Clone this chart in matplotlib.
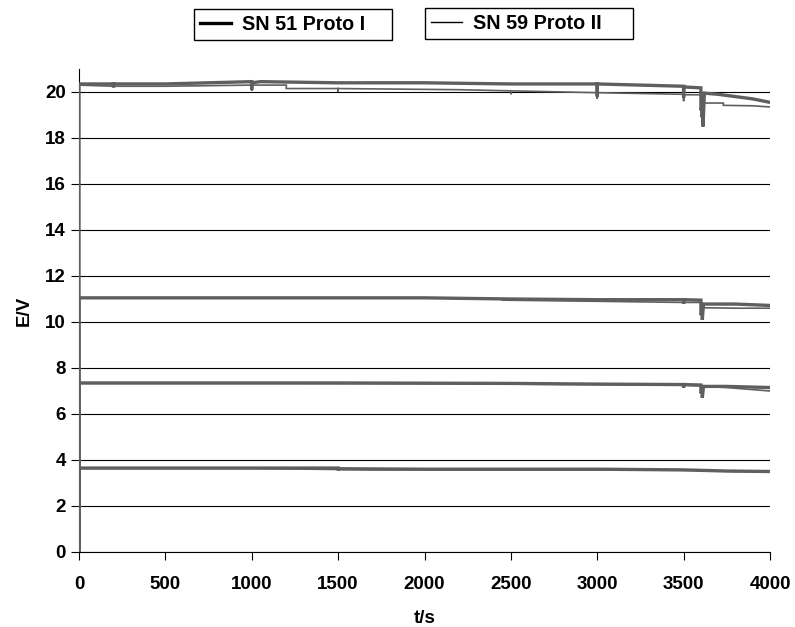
import matplotlib
matplotlib.use("Agg")
import matplotlib.pyplot as plt
from matplotlib.lines import Line2D

plt.rcParams['font.family'] = ['Liberation Sans', 'DejaVu Sans']
plt.rcParams['font.weight'] = 'bold'

series_names = ["SN 51 Proto I", "SN 59 Proto II"]

# ---- SN 51 Proto I (thick) ----
p1_top_t = [0, 0, 200, 200, 200, 500, 1000, 1000, 1000, 1050, 1500, 2000, 2500, 3000, 3000, 3000,
            3500, 3500, 3500, 3600, 3600, 3605, 3605, 3612, 3612, 3620, 3700, 3800, 3900, 4000]
p1_top_v = [0, 20.35, 20.35, 20.2, 20.35, 20.35, 20.45, 20.1, 20.4, 20.45, 20.4, 20.4, 20.35, 20.35, 19.8, 20.35,
            20.25, 19.75, 20.22, 20.18, 19.2, 19.3, 18.9, 19.0, 18.5, 19.95, 19.9, 19.8, 19.7, 19.55]
p1_mid_t = [0, 0, 200, 1000, 1500, 2000, 2500, 3000, 3500, 3500, 3500, 3600, 3600, 3608, 3608, 3615, 3800, 4000]
p1_mid_v = [0, 11.05, 11.05, 11.05, 11.05, 11.05, 11.0, 10.97, 10.97, 10.8, 10.97, 10.95, 10.3, 10.4, 10.1, 10.78, 10.78, 10.72]
p1_low_t = [0, 0, 200, 1500, 2500, 3000, 3500, 3500, 3500, 3600, 3600, 3608, 3608, 3615, 3750, 4000]
p1_low_v = [0, 7.35, 7.35, 7.35, 7.33, 7.3, 7.28, 7.15, 7.28, 7.26, 6.9, 7.0, 6.7, 7.2, 7.2, 7.15]
p1_bot_t = [0, 0, 500, 1500, 1500, 1500, 2000, 3000, 3500, 3600, 3750, 4000]
p1_bot_v = [0, 3.65, 3.65, 3.65, 3.55, 3.62, 3.6, 3.6, 3.57, 3.55, 3.52, 3.5]

# ---- SN 59 Proto II (thin) ----
p2_top_t = [0, 0, 200, 500, 1000, 1000, 1000, 1200, 1200, 1500, 1500, 1500, 2200, 2500, 2500, 2500,
            3000, 3000, 3000, 3500, 3500, 3500, 3600, 3600, 3610, 3730, 3730, 3900, 4000]
p2_top_v = [0, 20.3, 20.25, 20.25, 20.3, 20.05, 20.3, 20.3, 20.15, 20.15, 20.0, 20.15, 20.1, 20.05, 19.9, 20.05,
            19.97, 19.7, 19.97, 19.9, 19.6, 19.88, 19.88, 19.2, 19.52, 19.52, 19.42, 19.4, 19.35]
p2_mid_t = [0, 0, 1000, 2000, 2450, 2450, 3000, 3500, 3600, 3600, 3610, 3800, 4000]
p2_mid_v = [0, 11.05, 11.05, 11.05, 11.0, 10.95, 10.9, 10.85, 10.85, 10.3, 10.62, 10.6, 10.6]
p2_low_t = [0, 0, 1000, 2000, 3000, 3500, 3600, 3600, 3610, 3750, 4000]
p2_low_v = [0, 7.33, 7.33, 7.32, 7.28, 7.25, 7.22, 6.9, 7.2, 7.15, 7.0]
p2_bot_t = [0, 0, 1000, 1700, 3000, 3600, 3800, 4000]
p2_bot_v = [0, 3.63, 3.63, 3.57, 3.57, 3.55, 3.5, 3.5]

x_ticks = [0, 500, 1000, 1500, 2000, 2500, 3000, 3500, 4000]
y_ticks = [0, 2, 4, 6, 8, 10, 12, 14, 16, 18, 20]

fig = plt.figure(figsize=(7.95, 6.27), dpi=100)
ax = fig.add_axes([79/795, 75/627, (770-79)/795, (552-69)/627])

data_col = '#5f5f5f'
for t, v in [(p2_top_t, p2_top_v), (p2_mid_t, p2_mid_v), (p2_low_t, p2_low_v), (p2_bot_t, p2_bot_v)]:
    ax.plot(t, v, color=data_col, lw=1.2, zorder=3, solid_joinstyle='miter')
for t, v in [(p1_top_t, p1_top_v), (p1_mid_t, p1_mid_v), (p1_low_t, p1_low_v), (p1_bot_t, p1_bot_v)]:
    ax.plot(t, v, color=data_col, lw=2.4, zorder=4, solid_joinstyle='miter')

ax.set_xlim(0, 4000)
ax.set_ylim(0, 21)
ax.set_xticks(x_ticks)
ax.set_yticks(y_ticks)
ax.yaxis.grid(True, color='black', lw=0.8)
ax.set_axisbelow(True)
for s in ['top', 'right']:
    ax.spines[s].set_visible(False)
for s in ['left', 'bottom']:
    ax.spines[s].set_color('black')
    ax.spines[s].set_linewidth(0.8)
ax.tick_params(direction='out', length=5.5, width=0.8, labelsize=13.5, pad=4)
ax.tick_params(axis='x', pad=12)
for lab in ax.get_xticklabels() + ax.get_yticklabels():
    lab.set_fontweight('bold')
ax.set_xlabel('t/s', fontsize=13.5, fontweight='bold', labelpad=12)
ax.set_ylabel('E/V', fontsize=13.5, fontweight='bold', labelpad=9)

h1 = Line2D([], [], color='black', lw=2.4)
h2 = Line2D([], [], color='black', lw=1.0)
leg_kw = dict(loc='upper left', mode='expand', frameon=True, fancybox=False, edgecolor='black',
              framealpha=1, prop={'weight': 'bold', 'size': 14.2}, handlelength=1.6,
              borderpad=0.3, handletextpad=0.55, borderaxespad=0)
l1 = fig.legend([h1], [series_names[0]],
                bbox_to_anchor=(194/795, 1-10/627, 198/795, 0.001), **leg_kw)
l2 = fig.legend([h2], [series_names[1]],
                bbox_to_anchor=(425/795, 1-9/627, 208/795, 0.001), **leg_kw)
for l in (l1, l2):
    l.get_frame().set_linewidth(1.0)

fig.savefig('out.png', dpi=100)
